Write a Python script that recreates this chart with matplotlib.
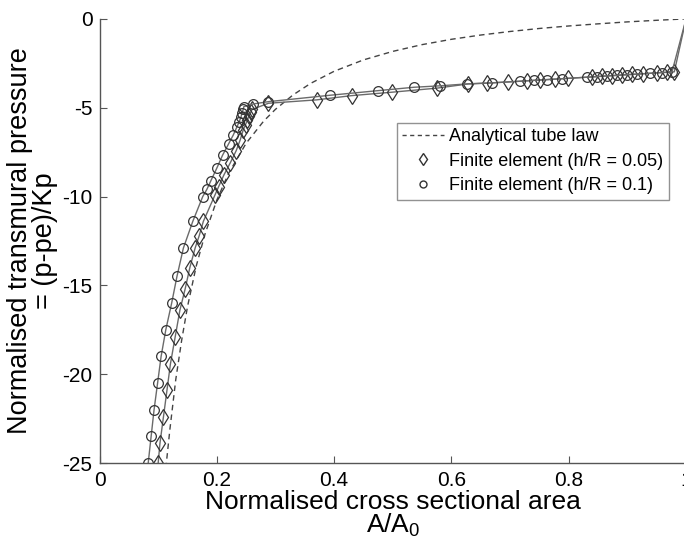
import numpy as np
import matplotlib
matplotlib.use("Agg")
import matplotlib.pyplot as plt
from matplotlib.lines import Line2D

plt.rcParams['font.family'] = ['Liberation Sans', 'DejaVu Sans']
plt.rcParams['mathtext.fontset'] = 'custom'
plt.rcParams['mathtext.rm'] = 'Liberation Sans'
plt.rcParams['axes.unicode_minus'] = False

# ---------------------------------------------------------------------
# data
# analytical tube law (dashed)
tube_area = [0.113, 0.12, 0.13, 0.14, 0.15, 0.165, 0.18, 0.2, 0.22, 0.25, 0.28,
             0.3, 0.33, 0.36, 0.4, 0.45, 0.5, 0.55, 0.6, 0.65, 0.7, 0.75,
             0.8, 0.85, 0.9, 0.95, 1.0]
tube_pres = [-25.3, -23.1, -20.3, -18.1, -16.2, -13.9, -12.1, -10.2, -8.7, -7.0,
             -5.75, -5.09, -4.28, -3.63, -2.95, -2.31, -1.83, -1.45, -1.15,
             -0.91, -0.71, -0.54, -0.40, -0.28, -0.17, -0.08, 0.0]

# finite element h/R = 0.05 (diamonds)
fe05_area = [0.100, 0.103, 0.109, 0.115, 0.121, 0.129, 0.137, 0.146, 0.154,
             0.163, 0.170, 0.177, 0.197, 0.203, 0.212, 0.223, 0.233, 0.240,
             0.245, 0.249, 0.252, 0.255, 0.258, 0.260, 0.288, 0.370, 0.430,
             0.498, 0.575, 0.629, 0.660, 0.697, 0.728, 0.751, 0.777, 0.798,
             0.839, 0.856, 0.873, 0.890, 0.907, 0.927, 0.950, 0.967, 0.980,
             1.0]
fe05_pres = [-25.0, -23.9, -22.4, -20.9, -19.4, -17.9, -16.4, -15.2, -14.0,
             -12.9, -12.2, -11.4, -9.9, -9.45, -8.79, -8.1, -7.42, -6.8,
             -6.25, -5.95, -5.7, -5.45, -5.25, -5.1, -4.75, -4.56, -4.32,
             -4.13, -3.90, -3.66, -3.62, -3.55, -3.49, -3.44, -3.39, -3.35,
             -3.27, -3.23, -3.20, -3.16, -3.13, -3.09, -3.04, -3.01, -2.98,
             0.0]

# finite element h/R = 0.1 (circles)
fe10_area = [0.083, 0.088, 0.093, 0.099, 0.105, 0.113, 0.123, 0.132, 0.143,
             0.159, 0.176, 0.183, 0.190, 0.200, 0.210, 0.220, 0.228, 0.234,
             0.238, 0.241, 0.243, 0.245, 0.246, 0.262, 0.288, 0.393, 0.475,
             0.536, 0.580, 0.627, 0.669, 0.717, 0.740, 0.763, 0.788, 0.831,
             0.848, 0.865, 0.882, 0.899, 0.916, 0.939, 0.959, 0.976, 1.0]
fe10_pres = [-25.0, -23.5, -22.0, -20.5, -19.0, -17.5, -16.0, -14.5, -12.9,
             -11.4, -10.0, -9.6, -9.1, -8.4, -7.66, -7.04, -6.54, -6.1,
             -5.8, -5.55, -5.3, -5.1, -4.94, -4.79, -4.66, -4.30, -4.04,
             -3.85, -3.77, -3.66, -3.60, -3.51, -3.46, -3.42, -3.37, -3.28,
             -3.25, -3.21, -3.18, -3.14, -3.11, -3.06, -3.02, -2.99, 0.0]

legend_labels = ['Analytical tube law', 'Finite element (h/R = 0.05)',
                 'Finite element (h/R = 0.1)']
# ---------------------------------------------------------------------

fig = plt.figure(figsize=(6.84, 5.39), dpi=100)
ax = fig.add_axes([0.1455, 0.141, 0.8575, 0.824])

line_col = '#6a6a6a'
mark_col = '#333333'

ax.plot(tube_area, tube_pres, color='#444444', lw=1.0, ls=(0, (4, 3)))
ax.plot(fe05_area, fe05_pres, color=line_col, lw=1.0, marker='d', ms=8,
        mfc='none', mec=mark_col, mew=0.9, markevery=slice(0, -1))
ax.plot(fe10_area, fe10_pres, color=line_col, lw=1.0, marker='o', ms=7,
        mfc='none', mec=mark_col, mew=0.9, markevery=slice(0, -1))

ax.set_xlim(0, 1)
ax.set_ylim(-25, 0)
ax.set_xticks([0, 0.2, 0.4, 0.6, 0.8, 1])
ax.set_xticklabels(['0', '0.2', '0.4', '0.6', '0.8', '1'])
ax.set_yticks([0, -5, -10, -15, -20, -25])

for s in ['top', 'right']:
    ax.spines[s].set_visible(False)
for s in ['left', 'bottom']:
    ax.spines[s].set_color('#555555')
    ax.spines[s].set_linewidth(1.0)
ax.tick_params(direction='in', length=5, width=0.8, color='#555555',
               labelsize=15)
ax.tick_params(axis='x', pad=6)
ax.tick_params(axis='y', pad=5)

ax.set_xlabel('Normalised cross sectional area\n$\\mathregular{A/A_0}$',
              fontsize=19, linespacing=0.9, labelpad=0)
ax.set_ylabel('Normalised transmural pressure\n= (p-pe)/Kp',
              fontsize=19.5, linespacing=0.95, labelpad=3)

handles = [
    Line2D([], [], color='#444444', lw=1.0, ls=(0, (3, 2.5))),
    Line2D([], [], ls='none', marker='d', ms=6, mfc='none', mec=mark_col),
    Line2D([], [], ls='none', marker='o', ms=5, mfc='none', mec=mark_col),
]
leg = ax.legend(handles, legend_labels, loc='upper left',
                bbox_to_anchor=(0.507, 0.766), fontsize=13, frameon=True,
                fancybox=False, edgecolor='#777777', handlelength=2.3,
                handletextpad=0.3, borderpad=0.3, labelspacing=0.42,
                borderaxespad=0)
leg.get_frame().set_linewidth(1.0)

fig.savefig('out.png', dpi=100)
